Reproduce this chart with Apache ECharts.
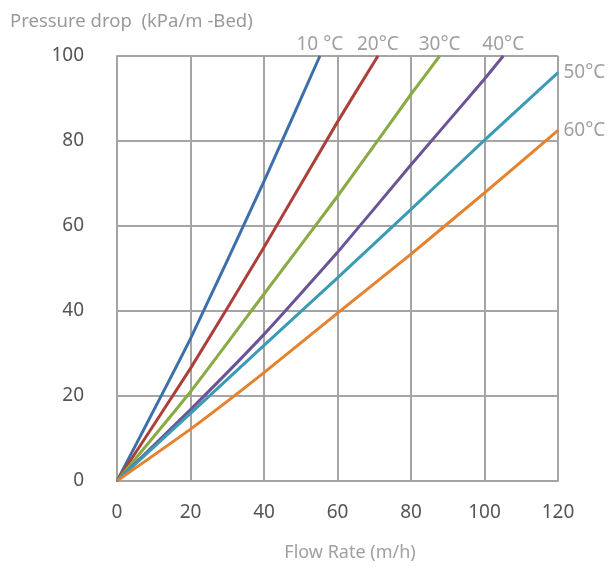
<!DOCTYPE html>
<html><head><meta charset="utf-8">
<script src="https://cdn.jsdelivr.net/npm/echarts@6/dist/echarts.min.js"></script>
<style>html,body{margin:0;padding:0;background:#fff}#c{width:612px;height:567px}</style>
</head><body><div id="c"></div>
<script>
const seriesNames = ['10 °C','20°C','30°C','40°C','50°C','60°C'];
const flow10 = [0, 20, 40, 55.2];        const dp10 = [0, 33.5, 70.5, 100];
const flow20 = [0, 20, 40, 60, 71.0];    const dp20 = [0, 26.5, 55, 84.5, 100];
const flow30 = [0, 20, 40, 60, 80, 87.8]; const dp30 = [0, 21, 44, 67, 91, 100];
const flow40 = [0, 20, 40, 60, 80, 100, 105.1]; const dp40 = [0, 16.8, 34.5, 53.8, 74.4, 94.6, 100];
const flow50 = [0, 20, 40, 60, 80, 100, 120]; const dp50 = [0, 15.9, 31.9, 47.8, 63.9, 80.2, 96.1];
const flow60 = [0, 20, 40, 60, 80, 100, 120]; const dp60 = [0, 12.2, 25.5, 39.5, 53.4, 67.8, 82.5];
const flows = [flow10, flow20, flow30, flow40, flow50, flow60];
const dps = [dp10, dp20, dp30, dp40, dp50, dp60];
const colors = ['#3d6fa8','#ad3f3b','#89ab42','#6b5396','#3c9bb4','#e5822e'];
const labelPos = ['top','top','top','top','right','right'];
const xTicks = [0,20,40,60,80,100,120];
const yTicks = [0,20,40,60,80,100];

const FONT = 'Noto Sans';
const gridColor = '#a5a5a5';
const series = seriesNames.map((n,i)=>({
  type:'line', name:n, symbol:'circle', symbolSize:1, showSymbol:true, showAllSymbol:true, silent:true,
  smooth:0.15,
  itemStyle:{color:colors[i]},
  lineStyle:{color:colors[i], width:3},
  data: flows[i].map((x,j)=>{
    const last = j === flows[i].length-1;
    return last ? {value:[x, dps[i][j]], label:{show:true, position:labelPos[i], distance: labelPos[i]==='top'?1:5, formatter:n, color:'#a0a0a0', fontSize:19, fontFamily:FONT}} : [x, dps[i][j]];
  })
}));
const chart = echarts.init(document.getElementById('c'));
chart.setOption({
  animation:false,
  title:{text:'Pressure drop  (kPa/m -Bed)', left:5, top:7, textStyle:{color:'#9a9a9a', fontSize:18.5, fontWeight:'normal', fontFamily:FONT}},
  grid:{left:117, right:54, top:56, bottom:79},
  xAxis:{type:'value', min:xTicks[0], max:xTicks[xTicks.length-1], interval:20,
    name:'Flow Rate (m/h)', nameLocation:'middle', nameGap:63,
    nameTextStyle:{color:'#a0a0a0', fontSize:18, fontFamily:FONT, padding:[0,0,0,25]},
    axisLine:{show:true, lineStyle:{color:gridColor, width:2}}, axisTick:{show:false},
    axisLabel:{color:'#555', fontSize:19, fontFamily:FONT, margin:22},
    splitLine:{show:true, lineStyle:{color:gridColor, width:2}}},
  yAxis:{type:'value', min:yTicks[0], max:yTicks[yTicks.length-1], interval:20,
    axisLine:{show:true, lineStyle:{color:gridColor, width:2}}, axisTick:{show:false},
    axisLabel:{color:'#555', fontSize:19, fontFamily:FONT, margin:33},
    splitLine:{show:true, lineStyle:{color:gridColor, width:2}}},
  series:series
});
</script></body></html>
